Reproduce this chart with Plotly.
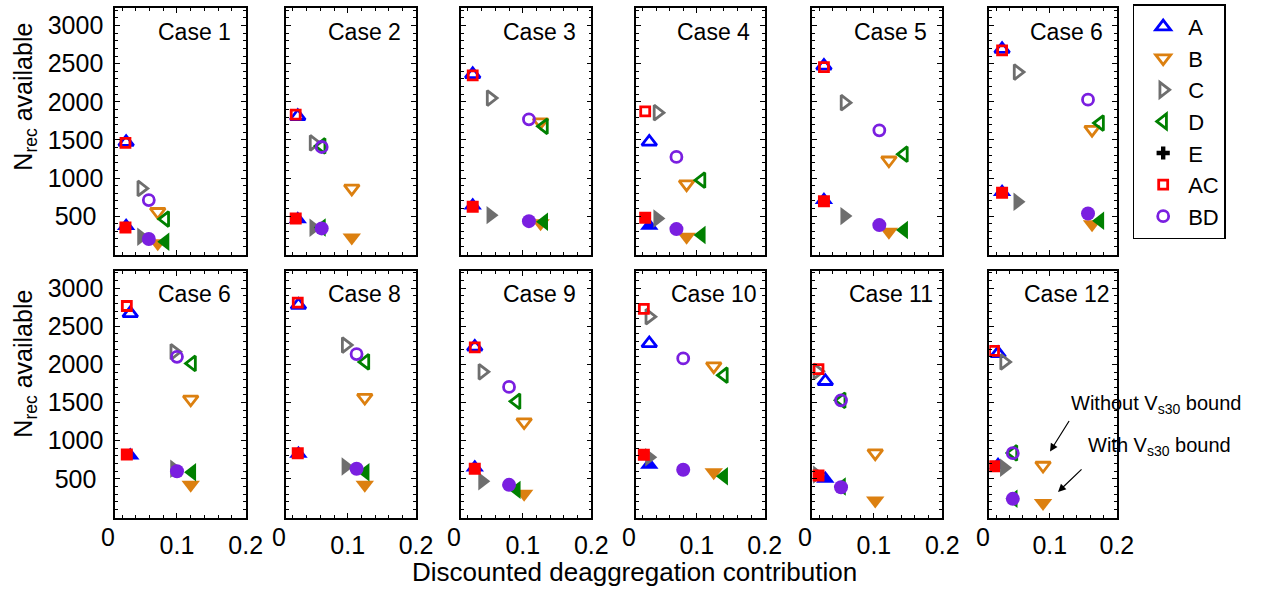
import plotly.graph_objects as go

W, H = 1274, 592
FONT = "Liberation Sans, Arial, sans-serif"

cases = ["Case 1", "Case 2", "Case 3", "Case 4", "Case 5", "Case 6",
         "Case 6", "Case 8", "Case 9", "Case 10", "Case 11", "Case 12"]

# Discounted deaggregation contribution of each source group, one value per case
a_contrib = [0.026, 0.027, 0.027, 0.030, 0.027, 0.029, 0.032, 0.028, 0.030, 0.030, 0.029, 0.023]
b_contrib = [0.072, 0.106, 0.126, 0.085, 0.122, 0.163, 0.120, 0.125, 0.102, 0.125, 0.102, 0.090]
c_contrib = [0.048, 0.050, 0.053, 0.042, 0.057, 0.052, 0.096, 0.097, 0.041, 0.030, 0.017, 0.032]
d_contrib = [0.083, 0.062, 0.131, 0.107, 0.144, 0.175, 0.122, 0.126, 0.091, 0.140, 0.053, 0.046]
ac_contrib = [0.025, 0.024, 0.027, 0.024, 0.027, 0.029, 0.027, 0.027, 0.030, 0.022, 0.019, 0.017]
bd_contrib = [0.059, 0.062, 0.109, 0.070, 0.108, 0.157, 0.100, 0.113, 0.080, 0.080, 0.052, 0.045]

# Records available without the Vs30 bound (open markers)
a_nrec_free = [1470, 1810, 2360, 1473, 2470, 2690, 2671, 2780, 2230, 2276, 1780, 2145]
b_nrec_free = [557, 863, 1734, 919, 1233, 1635, 1543, 1566, 1245, 1978, 837, 675]
c_nrec_free = [863, 1460, 2049, 1857, 1988, 2389, 2166, 2254, 1903, 2627, 1910, 2034]
d_nrec_free = [461, 1420, 1678, 971, 1312, 1721, 2013, 2034, 1517, 1859, 1530, 840]
ac_nrec_free = [1460, 1831, 2346, 1874, 2454, 2673, 2767, 2811, 2224, 2728, 1938, 2179]
bd_nrec_free = [710, 1407, 1770, 1276, 1626, 2027, 2100, 2136, 1705, 2079, 1530, 837]

# Records available with the Vs30 bound (filled markers)
a_nrec_bound = [370, 460, 640, 375, 710, 815, 805, 830, 650, 684, 500, 680]
b_nrec_bound = [145, 221, 405, 229, 295, 395, 421, 421, 303, 587, 215, 184]
c_nrec_bound = [229, 347, 513, 470, 500, 687, 632, 662, 468, 784, 555, 645]
d_nrec_bound = [165, 350, 425, 251, 317, 439, 587, 587, 355, 534, 400, 240]
ac_nrec_bound = [352, 470, 622, 478, 696, 805, 820, 837, 632, 816, 543, 666]
bd_nrec_bound = [199, 339, 434, 330, 382, 535, 600, 632, 421, 618, 390, 237]

x_range = [0.01, 0.2]
y_range = [-10, 3230]
y_tickvals = [500, 1000, 1500, 2000, 2500, 3000]
y_ticktext = ["500\u2008", "1000", "1500", "2000", "2500", "3000"]

# name, colour, base symbol, open size, filled size, contributions, free, bound
series = [
    ("A", "#0000FF", "triangle-up", 13, 16, a_contrib, a_nrec_free, a_nrec_bound),
    ("B", "#DC8010", "triangle-down", 13, 16, b_contrib, b_nrec_free, b_nrec_bound),
    ("C", "#6E6E6E", "triangle-right", 13, 16, c_contrib, c_nrec_free, c_nrec_bound),
    ("D", "#008000", "triangle-left", 13, 16, d_contrib, d_nrec_free, d_nrec_bound),
    ("E", "#000000", "cross", 11, 11, None, None, None),
    ("AC", "#FF0000", "square", 9, 12, ac_contrib, ac_nrec_free, ac_nrec_bound),
    ("BD", "#7A1FE0", "circle", 11, 14, bd_contrib, bd_nrec_free, bd_nrec_bound),
]
OPEN_LW = 2.8

# panel frame positions in pixels
col_left = [116.7, 290, 467.3, 644.3, 823.3, 1002.7]
col_right = [249, 421.7, 599.3, 775, 955, 1132]
row_top = [8, 270.7]
row_bottom = [255, 517.7]

fig = go.Figure()

# legend entries (open symbols)
for name, color, sym, s_open, s_fill, *_ in series:
    legend_sym = sym if sym == "cross" else sym + "-open"
    fig.add_trace(go.Scatter(
        x=[None], y=[None], mode="markers", name=name,
        marker=dict(symbol=legend_sym, size=s_open, color=color, opacity=1,
                    line=dict(width=0 if sym == "cross" else OPEN_LW, color=color)),
        xaxis="x", yaxis="y", showlegend=True))

# data markers, panel by panel: open = without bound, filled = with bound
for k in range(12):
    ax = "" if k == 0 else str(k + 1)
    for name, color, sym, s_open, s_fill, contrib, free, bound in series:
        if contrib is None:
            continue
        fig.add_trace(go.Scatter(
            x=[contrib[k], contrib[k]], y=[free[k], bound[k]], mode="markers",
            marker=dict(symbol=[sym + "-open", sym], size=[s_open, s_fill],
                        color=color, opacity=1,
                        line=dict(width=[OPEN_LW, 0], color=color)),
            xaxis="x" + ax, yaxis="y" + ax, showlegend=False, hoverinfo="skip"))

axis_base = dict(showline=True, linecolor="black", linewidth=1.6, mirror="allticks",
                 ticks="inside", ticklen=5, tickwidth=1.2, tickcolor="black",
                 showgrid=False, zeroline=False,
                 tickfont=dict(family=FONT, size=25, color="black"))

layout = dict(width=W, height=H, margin=dict(l=0, r=0, t=0, b=0),
              paper_bgcolor="white", plot_bgcolor="white",
              font=dict(family=FONT, color="black"))

annotations = []
for k in range(12):
    r, c = divmod(k, 6)
    ax = "" if k == 0 else str(k + 1)
    xa = dict(axis_base, domain=[col_left[c] / W, col_right[c] / W], range=x_range,
              tickmode="linear", tick0=0, dtick=0.1, showticklabels=(r == 1),
              ticklabelstandoff=4,
              minor=dict(ticks="inside", ticklen=3, tickwidth=1, tickcolor="black",
                         tickmode="linear", tick0=0, dtick=0.02),
              anchor="y" + ax)
    ya = dict(axis_base, domain=[1 - row_bottom[r] / H, 1 - row_top[r] / H], range=y_range,
              tickmode="array", tickvals=y_tickvals, ticktext=y_ticktext,
              showticklabels=(c == 0), ticklabelstandoff=5,
              minor=dict(ticks="inside", ticklen=3, tickwidth=1, tickcolor="black",
                         tickmode="linear", tick0=0, dtick=100),
              anchor="x" + ax)
    layout["xaxis" + ax] = xa
    layout["yaxis" + ax] = ya
    annotations.append(dict(text=cases[k], x=0.125, y=2920, xref="x" + ax, yref="y" + ax,
                            showarrow=False, xanchor="center", yanchor="middle",
                            font=dict(family=FONT, size=23, color="black")))
    if r == 1:
        # the zero label sits just left of the frame, where x = 0 falls
        span = col_right[c] - col_left[c]
        zero_px = col_left[c] - (x_range[0] - 0) / (x_range[1] - x_range[0]) * span
        annotations.append(dict(text="0", x=zero_px / W, y=1 - 537 / H, xref="paper",
                                yref="paper", showarrow=False, xanchor="center",
                                yanchor="middle",
                                font=dict(family=FONT, size=25, color="black")))

# axis titles
for yc in (97, 364):
    annotations.append(dict(text="N<sub>rec</sub> available", x=25 / W, y=1 - yc / H,
                            xref="paper", yref="paper", textangle=-90, showarrow=False,
                            xanchor="center", yanchor="middle",
                            font=dict(family=FONT, size=25, color="black")))
annotations.append(dict(text="Discounted deaggregation contribution", x=643 / W, y=1 - 572 / H,
                        xref="paper", yref="paper", showarrow=False,
                        xanchor="center", yanchor="middle",
                        font=dict(family=FONT, size=26, color="black")))

# callouts for Case 12, group B
bx, bfree, bbound = b_contrib[11], b_nrec_free[11], b_nrec_bound[11]
annotations.append(dict(text="", x=bx, y=bfree, xref="x12", yref="y12", xshift=7, yshift=14,
                        showarrow=True, ax=20, ay=-32, arrowhead=2, arrowsize=1.3,
                        arrowwidth=1.2, arrowcolor="black"))
annotations.append(dict(text="", x=bx, y=bbound, xref="x12", yref="y12", xshift=15, yshift=11,
                        showarrow=True, ax=25, ay=-24, arrowhead=2, arrowsize=1.3,
                        arrowwidth=1.2, arrowcolor="black"))
annotations.append(dict(text="Without V<sub>s30</sub> bound", x=bx, y=bfree, xref="x12",
                        yref="y12", xshift=26, yshift=61, showarrow=False,
                        xanchor="left", yanchor="middle",
                        font=dict(family=FONT, size=20, color="black")))
annotations.append(dict(text="With V<sub>s30</sub> bound", x=bx, y=bbound, xref="x12",
                        yref="y12", xshift=43, yshift=56, showarrow=False,
                        xanchor="left", yanchor="middle",
                        font=dict(family=FONT, size=20, color="black")))

layout["annotations"] = annotations
layout["legend"] = dict(x=1148 / W, y=1 - 4.3 / H, xanchor="left", yanchor="top",
                        bordercolor="black", borderwidth=1.5, bgcolor="white",
                        font=dict(family=FONT, size=22, color="black"),
                        itemwidth=40, indentation=4, tracegroupgap=0)
layout["showlegend"] = True

fig.update_layout(layout)
fig.write_html("out.html")
